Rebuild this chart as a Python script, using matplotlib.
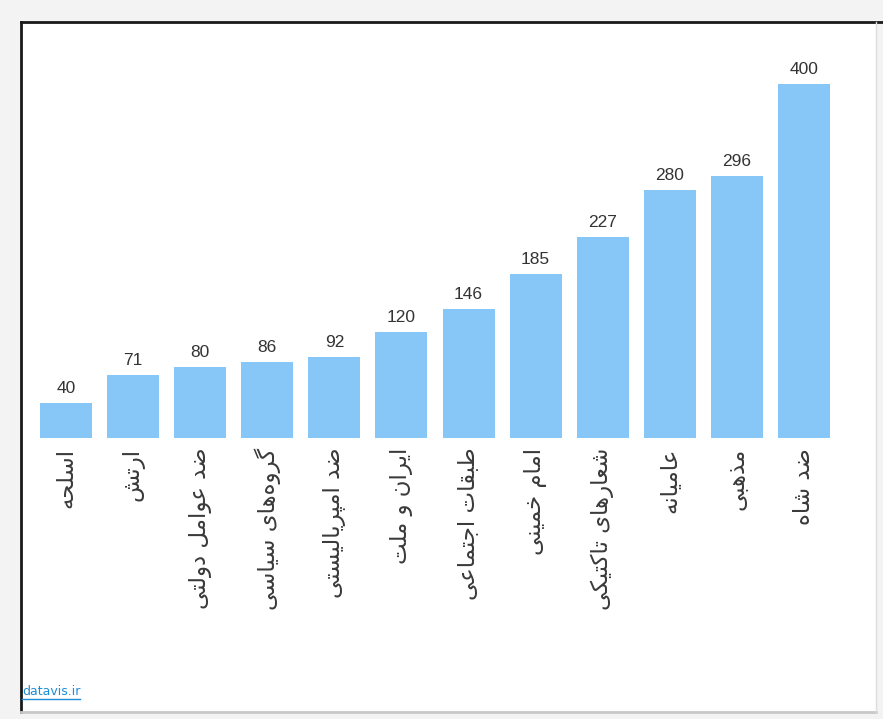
import matplotlib
matplotlib.use('Agg')
import matplotlib.pyplot as plt
from matplotlib.patches import Rectangle
from matplotlib.lines import Line2D

categories = ['اسلحه', 'ارتش', 'ضد عوامل دولتی', 'گروه\u200cهای سیاسی',
              'ضد امپریالیستی', 'ایران و ملت', 'طبقات اجتماعی', 'امام خمینی',
              'شعارهای تاکتیکی', 'عامیانه', 'مذهبی', 'ضد شاه']
values = [40, 71, 80, 86, 92, 120, 146, 185, 227, 280, 296, 400]

# arabic presentation forms: isolated, final, initial, medial
FORMS = {
    'ا': ('\uFE8D', '\uFE8E', None, None),
    'ب': ('\uFE8F', '\uFE90', '\uFE91', '\uFE92'),
    'پ': ('\uFB56', '\uFB57', '\uFB58', '\uFB59'),
    'ت': ('\uFE95', '\uFE96', '\uFE97', '\uFE98'),
    'ج': ('\uFE9D', '\uFE9E', '\uFE9F', '\uFEA0'),
    'ح': ('\uFEA1', '\uFEA2', '\uFEA3', '\uFEA4'),
    'خ': ('\uFEA5', '\uFEA6', '\uFEA7', '\uFEA8'),
    'د': ('\uFEA9', '\uFEAA', None, None),
    'ذ': ('\uFEAB', '\uFEAC', None, None),
    'ر': ('\uFEAD', '\uFEAE', None, None),
    'س': ('\uFEB1', '\uFEB2', '\uFEB3', '\uFEB4'),
    'ش': ('\uFEB5', '\uFEB6', '\uFEB7', '\uFEB8'),
    'ض': ('\uFEBD', '\uFEBE', '\uFEBF', '\uFEC0'),
    'ط': ('\uFEC1', '\uFEC2', '\uFEC3', '\uFEC4'),
    'ع': ('\uFEC9', '\uFECA', '\uFECB', '\uFECC'),
    'ق': ('\uFED5', '\uFED6', '\uFED7', '\uFED8'),
    'ک': ('\uFB8E', '\uFB8F', '\uFB90', '\uFB91'),
    'گ': ('\uFB92', '\uFB93', '\uFB94', '\uFB95'),
    'ل': ('\uFEDD', '\uFEDE', '\uFEDF', '\uFEE0'),
    'م': ('\uFEE1', '\uFEE2', '\uFEE3', '\uFEE4'),
    'ن': ('\uFEE5', '\uFEE6', '\uFEE7', '\uFEE8'),
    'ه': ('\uFEE9', '\uFEEA', '\uFEEB', '\uFEEC'),
    'و': ('\uFEED', '\uFEEE', None, None),
    'ی': ('\uFBFC', '\uFBFD', '\uFBFE', '\uFBFF'),
}


def shape(text):
    # join letters and put them in visual (left to right) order
    out = []
    for i, ch in enumerate(text):
        if ch not in FORMS:
            if ch != '\u200c':
                out.append(ch)
            continue
        prev = text[i - 1] if i > 0 else None
        nxt = text[i + 1] if i + 1 < len(text) else None
        join_prev = prev in FORMS and FORMS[prev][2] is not None
        join_next = FORMS[ch][2] is not None and nxt in FORMS
        if join_prev and join_next:
            out.append(FORMS[ch][3])
        elif join_prev:
            out.append(FORMS[ch][1])
        elif join_next:
            out.append(FORMS[ch][2])
        else:
            out.append(FORMS[ch][0])
    return ''.join(reversed(out))


W, H = 883, 719
fig = plt.figure(figsize=(W / 100, H / 100), dpi=100)
fig.patch.set_facecolor('#f3f3f3')

# white panel with an inset border
x0, x1 = 21 / W, 876 / W
y0, y1 = 1 - 712 / H, 1 - 22 / H
fig.patches.append(Rectangle((x0, y0), x1 - x0, y1 - y0, transform=fig.transFigure,
                             facecolor='white', edgecolor='none', zorder=-5))
fig.lines.append(Line2D([x0, x0], [y0, y1], transform=fig.transFigure, color='#1a1a1a', lw=2))
fig.lines.append(Line2D([x0, 1], [y1, y1], transform=fig.transFigure, color='#1a1a1a', lw=2))
fig.lines.append(Line2D([x0, x1], [y0, y0], transform=fig.transFigure, color='#c8c8c8', lw=2))
fig.lines.append(Line2D([x1, x1], [y0, y1], transform=fig.transFigure, color='#dddddd', lw=1))

ax = fig.add_axes([32.5 / W, 1 - 438 / H, 805 / W, 398 / H])
ax.set_zorder(1)
ax.set_facecolor('none')
x = list(range(len(values)))
bars = ax.bar(x, values, width=0.775, color='#87c7f7', zorder=2)
ax.set_xlim(-0.5, len(values) - 0.5)
ax.set_ylim(0, 450)
for s in ax.spines.values():
    s.set_visible(False)
ax.set_yticks([])
ax.set_xticks([])

for xi, v in zip(x, values):
    ax.annotate(str(v), (xi, v), xytext=(0, 5), textcoords='offset points',
                ha='center', va='bottom', fontsize=12.5, color='#333333',
                family='Liberation Sans')
    ax.annotate(shape(categories[xi]), (xi, 0), xytext=(0, -7), textcoords='offset points',
                ha='center', va='top', rotation=90, fontsize=16.5, color='#3a3a3a',
                family='DejaVu Sans', annotation_clip=False)

link = fig.text(22 / W, 1 - 695 / H, 'datavis.ir', fontsize=9, color='#1f8dd6',
                family='DejaVu Sans', ha='left', va='baseline')
fig.canvas.draw()
bb = link.get_window_extent().transformed(fig.transFigure.inverted())
fig.lines.append(Line2D([bb.x0, bb.x1], [bb.y0 - 0.001, bb.y0 - 0.001],
                        transform=fig.transFigure, color='#1f8dd6', lw=1))

fig.savefig('out.png', dpi=100, facecolor=fig.get_facecolor())
